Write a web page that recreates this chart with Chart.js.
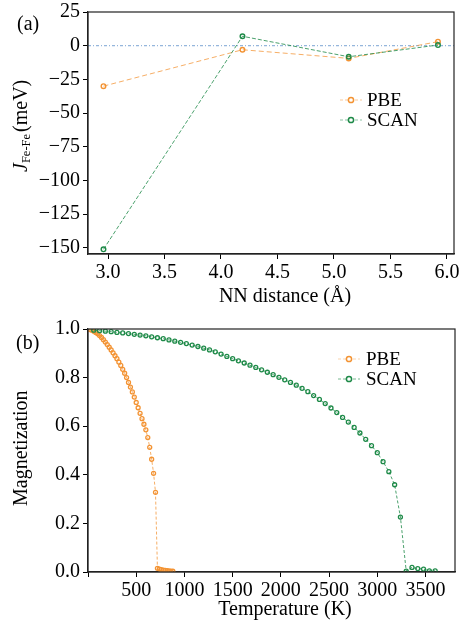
<!DOCTYPE html>
<html>
<head>
<meta charset="utf-8">
<script src="https://cdn.jsdelivr.net/npm/chart.js@4.4.1/dist/chart.umd.min.js"></script>
<style>
  html, body { margin: 0; padding: 0; background: #fff; }
  #wrap { position: relative; width: 459px; height: 625px; }
  #wrap canvas { position: absolute; left: 0; top: 0; }
</style>
</head>
<body>
<div id="wrap">
  <canvas id="exchangeChart" width="459" height="625"></canvas>
  <canvas id="magChart" width="459" height="625"></canvas>
</div>
<script>
// (a) exchange constants vs NN distance
const nnDistance = [2.96, 4.19, 5.13, 5.92];
const jPBE = [-30, -3, -9.4, 3];
const jSCAN = [-151, 7, -8.2, 0.5];
const nnTicks = [3.0, 3.5, 4.0, 4.5, 5.0, 5.5, 6.0];
const jTicks = [25, 0, -25, -50, -75, -100, -125, -150];

// (b) magnetization vs temperature
const tempPBE = [20, 40, 60, 80, 100, 120, 140, 160, 180, 200, 220, 240, 260, 280, 300, 320, 340, 360, 380, 400,
  420, 440, 460, 480, 500, 520, 540, 560, 580, 600, 620, 640, 660, 680, 700, 720, 740, 760, 780, 800, 820, 840, 860, 880];
const magPBE = [0.998, 0.995, 0.991, 0.986, 0.980, 0.973, 0.965, 0.956, 0.946, 0.936, 0.925, 0.914, 0.902, 0.890, 0.878, 0.864, 0.850, 0.834, 0.818, 0.800,
  0.780, 0.761, 0.741, 0.720, 0.698, 0.676, 0.653, 0.631, 0.608, 0.585, 0.553, 0.513, 0.464, 0.406, 0.328, 0.015, 0.012, 0.010, 0.008, 0.007, 0.006, 0.005, 0.004, 0.003];
const tempSCAN = [60, 120, 180, 240, 300, 360, 420, 480, 540, 600, 660, 720, 780, 840, 900, 960, 1020, 1080, 1140, 1200,
  1260, 1320, 1380, 1440, 1500, 1560, 1620, 1680, 1740, 1800, 1860, 1920, 1980, 2040, 2100, 2160, 2220, 2280, 2340, 2400,
  2460, 2520, 2580, 2640, 2700, 2760, 2820, 2880, 2940, 3000, 3060, 3120, 3180, 3240, 3300, 3360, 3420, 3480, 3540, 3600];
const magSCAN = [0.995, 0.993, 0.991, 0.989, 0.986, 0.984, 0.981, 0.978, 0.975, 0.972, 0.968, 0.964, 0.960, 0.955, 0.950, 0.945, 0.940, 0.934, 0.928, 0.921,
  0.914, 0.906, 0.897, 0.887, 0.878, 0.869, 0.860, 0.851, 0.842, 0.832, 0.822, 0.812, 0.801, 0.791, 0.780, 0.769, 0.756, 0.742, 0.726, 0.710,
  0.693, 0.675, 0.656, 0.636, 0.617, 0.595, 0.572, 0.546, 0.520, 0.491, 0.454, 0.413, 0.359, 0.226, 0.004, 0.019, 0.014, 0.012, 0.005, 0.005];
const tempTicks = [0, 500, 1000, 1500, 2000, 2500, 3000, 3500];
const magTicks = [0, 0.2, 0.4, 0.6, 0.8, 1.0];

const ORANGE = '#f39333';
const ORANGE_LINE = 'rgba(243,147,51,0.75)';
const GREEN = '#1e8a48';
const GREEN_LINE = 'rgba(30,138,72,0.8)';
const SERIF = "'Liberation Serif', 'Times New Roman', serif";
const TICK_FONT = { family: SERIF, size: 20 };

function pts(xs, ys) {
  return xs.map((x, i) => ({ x: x, y: ys[i] }));
}

// fixed axis boxes so the plot areas sit where the reference has them
function fixWidth(w) {
  return function (scale) { scale.width = w; scale.paddingTop = 0; scale.paddingBottom = 0; };
}
function fixHeight(h) {
  return function (scale) { scale.height = h; scale.paddingLeft = 0; scale.paddingRight = 0; };
}
function useTicks(list) {
  return function (scale) { scale.ticks = list.map(v => ({ value: v })); };
}

const tickGrid = { drawOnChartArea: false, drawTicks: true, tickLength: 5, tickWidth: 1, tickColor: '#000' };
const axisBorder = { display: true, color: '#222', width: 1.2 };

// frame, titles, panel tag and legend (settings kept in the closure)
function makeDecor(id, o) {
  return {
    id: id,
    afterDraw(chart) {
      const ctx = chart.ctx;
      const a = chart.chartArea;
      ctx.save();
      ctx.strokeStyle = '#222';
      ctx.lineWidth = 1.2;
      ctx.strokeRect(a.left, a.top, a.right - a.left, a.bottom - a.top);

      ctx.fillStyle = '#000';
      ctx.font = '20px ' + SERIF;
      ctx.textBaseline = 'alphabetic';
      ctx.textAlign = 'left';
      ctx.fillText(o.tag, o.tagX, o.tagY);

      ctx.textAlign = 'center';
      ctx.fillText(o.xTitle, o.xTitleX, o.xTitleY);

      // rotated y title
      ctx.save();
      ctx.translate(o.yTitleX, o.yTitleY);
      ctx.rotate(-Math.PI / 2);
      ctx.textAlign = 'left';
      let x = 0;
      o.yTitle.forEach(function (p) {
        ctx.font = (p.italic ? 'italic ' : '') + p.size + 'px ' + SERIF;
        ctx.fillText(p.text, x, p.shift ? p.shift : 0);
        x += ctx.measureText(p.text).width + (p.gap ? p.gap : 0);
      });
      ctx.restore();

      // legend
      o.legend.forEach(function (it) {
        ctx.save();
        ctx.strokeStyle = it.line;
        ctx.lineWidth = 1;
        ctx.setLineDash([3, 2]);
        ctx.beginPath();
        ctx.moveTo(it.x0, it.y);
        ctx.lineTo(it.x1, it.y);
        ctx.stroke();
        ctx.setLineDash([]);
        ctx.strokeStyle = it.color;
        ctx.lineWidth = 1.5;
        ctx.fillStyle = '#fff';
        ctx.beginPath();
        ctx.arc((it.x0 + it.x1) / 2, it.y, 2.6, 0, Math.PI * 2);
        ctx.fill();
        ctx.stroke();
        ctx.fillStyle = '#000';
        ctx.font = '19px ' + SERIF;
        ctx.textAlign = 'left';
        ctx.textBaseline = 'middle';
        ctx.fillText(it.text, it.tx, it.y + 1);
        ctx.restore();
      });
      ctx.restore();
    }
  };
}

Chart.defaults.font.family = SERIF;
Chart.defaults.font.size = 20;
Chart.defaults.color = '#000';

// ---- panel (a)
new Chart(document.getElementById('exchangeChart'), {
  type: 'line',
  data: {
    datasets: [
      {
        label: 'SCAN', data: pts(nnDistance, jSCAN), order: 0,
        borderColor: GREEN_LINE, borderWidth: 1, borderDash: [4, 2],
        pointRadius: 2.3, pointBorderWidth: 1.4, pointBorderColor: GREEN, pointBackgroundColor: 'rgba(0,0,0,0)'
      },
      {
        label: 'PBE', data: pts(nnDistance, jPBE), order: 1,
        borderColor: ORANGE_LINE, borderWidth: 1, borderDash: [5, 3],
        pointRadius: 2.3, pointBorderWidth: 1.4, pointBorderColor: ORANGE, pointBackgroundColor: 'rgba(0,0,0,0)'
      },
      {
        label: 'zero', data: [{ x: 2.823, y: 0 }, { x: 6.062, y: 0 }], order: 2,
        borderColor: 'rgba(60,120,190,0.85)', borderWidth: 0.8, borderDash: [3, 2, 1, 2], pointRadius: 0
      }
    ]
  },
  options: {
    responsive: false,
    animation: false,
    layout: { autoPadding: false, padding: { top: 12, right: 5, bottom: 331, left: 0 } },
    plugins: { legend: { display: false }, tooltip: { enabled: false } },
    scales: {
      x: {
        type: 'linear', min: 2.823, max: 6.062,
        afterBuildTicks: useTicks(nnTicks), afterFit: fixHeight(40),
        ticks: { font: TICK_FONT, color: '#000', autoSkip: false, maxRotation: 0, padding: 2, callback: v => v.toFixed(1) },
        grid: tickGrid, border: axisBorder
      },
      y: {
        type: 'linear', min: -154.5, max: 25,
        afterBuildTicks: useTicks(jTicks), afterFit: fixWidth(88),
        ticks: { font: TICK_FONT, color: '#000', autoSkip: false, padding: 3, callback: v => String(v).replace('-', '\u2212') },
        grid: tickGrid, border: axisBorder
      }
    }
  },
  plugins: [makeDecor('decorA', {
    tag: '(a)', tagX: 17, tagY: 30,
    xTitle: 'NN distance (Å)', xTitleX: 285, xTitleY: 302,
    yTitleX: 26.5, yTitleY: 172,
    yTitle: [
      { text: 'J', size: 20, italic: true },
      { text: 'Fe-Fe', size: 12.5, shift: 3, gap: 2 },
      { text: '(meV)', size: 20 }
    ],
    legend: [
      { x0: 340, x1: 362, y: 100, tx: 367, text: 'PBE', color: ORANGE, line: 'rgba(243,147,51,0.5)' },
      { x0: 340, x1: 362, y: 120, tx: 367, text: 'SCAN', color: GREEN, line: 'rgba(30,138,72,0.5)' }
    ]
  })]
});

// ---- panel (b)
new Chart(document.getElementById('magChart'), {
  type: 'line',
  data: {
    datasets: [
      {
        label: 'SCAN', data: pts(tempSCAN, magSCAN), order: 0,
        borderColor: GREEN_LINE, borderWidth: 1, borderDash: [3, 2],
        pointRadius: 2, pointBorderWidth: 1.3, pointBorderColor: GREEN, pointBackgroundColor: 'rgba(0,0,0,0)'
      },
      {
        label: 'PBE', data: pts(tempPBE, magPBE), order: 1,
        borderColor: ORANGE_LINE, borderWidth: 1, borderDash: [3, 2],
        pointRadius: 2, pointBorderWidth: 1.3, pointBorderColor: ORANGE, pointBackgroundColor: 'rgba(0,0,0,0)'
      }
    ]
  },
  options: {
    responsive: false,
    animation: false,
    layout: { autoPadding: false, padding: { top: 329, right: 4, bottom: 13, left: 0 } },
    plugins: { legend: { display: false }, tooltip: { enabled: false } },
    scales: {
      x: {
        type: 'linear', min: 0, max: 3806,
        afterBuildTicks: useTicks(tempTicks), afterFit: fixHeight(40),
        ticks: { font: TICK_FONT, color: '#000', autoSkip: false, maxRotation: 0, padding: 2, callback: v => (v === 0 ? '' : String(v)) },
        grid: tickGrid, border: axisBorder
      },
      y: {
        type: 'linear', min: 0, max: 1.0,
        afterBuildTicks: useTicks(magTicks), afterFit: fixWidth(88),
        ticks: { font: TICK_FONT, color: '#000', autoSkip: false, padding: 3, callback: v => v.toFixed(1) },
        grid: tickGrid, border: axisBorder
      }
    }
  },
  plugins: [makeDecor('decorB', {
    tag: '(b)', tagX: 16, tagY: 349,
    xTitle: 'Temperature (K)', xTitleX: 285, xTitleY: 615,
    yTitleX: 27, yTitleY: 506,
    yTitle: [{ text: 'Magnetization', size: 20 }],
    legend: [
      { x0: 338, x1: 360, y: 359, tx: 366, text: 'PBE', color: ORANGE, line: 'rgba(243,147,51,0.4)' },
      { x0: 338, x1: 360, y: 379, tx: 366, text: 'SCAN', color: GREEN, line: 'rgba(30,138,72,0.6)' }
    ]
  })]
});
</script>
</body>
</html>
